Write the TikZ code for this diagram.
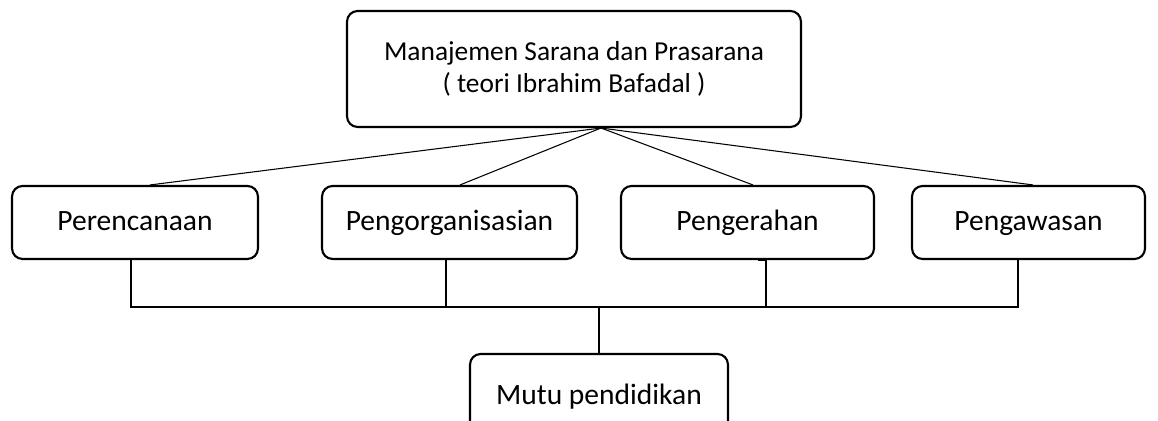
\documentclass[tikz,border=0pt]{standalone}
\usepackage{fontspec}
\setmainfont{Carlito}
\usepackage{tikz}

\begin{document}
\begin{tikzpicture}[x=0.02cm, y=-0.02cm,
		box/.style={draw, line width=1.2pt, rounded corners=6pt, align=center,
			inner sep=0pt, minimum height=1.46cm},
		item/.style={box, font=\fontsize{16.8}{20}\selectfont,
			text height=2.3ex, text depth=0.5ex},
		link/.style={line width=0.6pt}]
		\useasboundingbox (0,0) rectangle (1158,421);

		\node[box, font=\fontsize{15.6}{18.2}\selectfont,
			minimum width=9.08cm, minimum height=2.32cm] (top) at (574, 69)
			{Manajemen Sarana dan Prasarana\\( teori Ibrahim Bafadal )};
		\node[item, minimum width=4.92cm] (perenc) at (135, 222.5)  {Perencanaan};
		\node[item, minimum width=5.10cm] (organ)  at (449.5, 222.5) {Pengorganisasian};
		\node[item, minimum width=5.06cm] (gerah)  at (747.5, 222.5) {Pengerahan};
		\node[item, minimum width=4.66cm] (awas)   at (1028.5, 222.5) {Pengawasan};
		\node[item, minimum width=5.16cm, minimum height=1.70cm] (mutu) at (599, 396.5)
			{Mutu pendidikan};

		\coordinate (apex)   at ([xshift=0.54cm]top.south);
		\coordinate (bus)    at (598, 307);
		\coordinate (awasdn) at ([xshift=-0.21cm]awas.south);

		\draw[link] (apex) -- ([xshift=0.30cm]perenc.north);
		\draw[link] (apex) -- ([xshift=0.21cm]organ.north);
		\draw[link] (apex) -- ([xshift=0.11cm]gerah.north);
		\draw[link] (apex) -- ([xshift=0.09cm]awas.north);

		\draw[link] ([xshift=-0.08cm]perenc.south) |- (awasdn |- bus) -- (awasdn);
		\draw[link] ([xshift=-0.07cm]organ.south) -- ++(0,48);
		\draw[link] ([xshift=0.21cm]gerah.south) -- ++(8,0) -- ++(0,48);
		\draw[link] (mutu.north) -- (mutu.north |- bus);
	\end{tikzpicture}
\end{document}
